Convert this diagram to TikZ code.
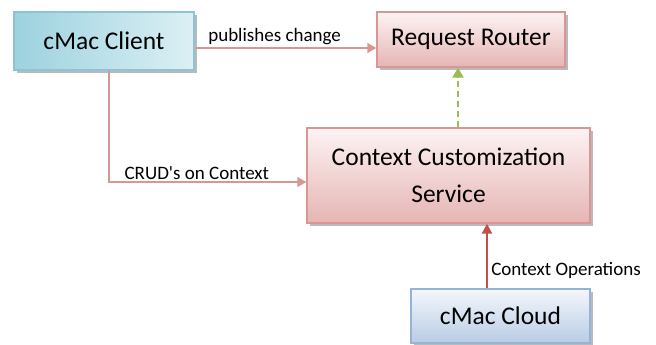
\documentclass[tikz,border=0pt]{standalone}
\usepackage{fontspec}
\setmainfont{Carlito}
\usetikzlibrary{arrows.meta,shadows}
\definecolor{clientA}{HTML}{9CD2DF}
\definecolor{clientB}{HTML}{DCF0F5}
\definecolor{clientLine}{HTML}{8CC4D3}
\definecolor{pinkA}{HTML}{FDF3F3}
\definecolor{pinkB}{HTML}{E5B5B4}
\definecolor{pinkLine}{HTML}{D99694}
\definecolor{cloudA}{HTML}{F4F7FC}
\definecolor{cloudB}{HTML}{B8CCE4}
\definecolor{cloudLine}{HTML}{95B3D7}
\definecolor{redLine}{HTML}{C0504D}
\definecolor{greenLine}{HTML}{9BBB59}
\tikzset{
  x=1pt, y=-1pt,
  box/.style={draw, line width=1.4pt, inner sep=0pt, font=\fontsize{25.5}{37}\selectfont,
    align=center, drop shadow={shadow xshift=2.5pt, shadow yshift=-3pt, opacity=0.45, fill=black!60}},
  clientbox/.style={box, draw=clientLine, left color=clientA, right color=clientB},
  pinkbox/.style={box, draw=pinkLine, top color=pinkA, bottom color=pinkB},
  cloudbox/.style={box, draw=cloudLine, top color=cloudA, bottom color=cloudB},
  flow/.style={draw=pinkLine, line width=1.6pt, -{Triangle[length=9pt,width=10pt]}},
  lbl/.style={font=\fontsize{19}{22}\selectfont, inner sep=1pt},
}
\begin{document}
\begin{tikzpicture}
\useasboundingbox (0,0) rectangle (656,345);
\node[clientbox, minimum width=180pt, minimum height=58pt] (client) at (104,41) {cMac Client};
\node[pinkbox, minimum width=188pt, minimum height=55pt] (router) at (471,39.5) {Request Router};
\node[pinkbox, minimum width=283pt, minimum height=95pt] (ccs) at (448.5,175.5) {Context Customization\\Service};
\node[cloudbox, minimum width=179pt, minimum height=54pt] (cloud) at (500.5,316) {cMac Cloud};

\coordinate (bend) at (109,182);
\draw[flow] (client.east |- 0,48) -- (router.west |- 0,48)
  node[lbl, pos=0.44, above=1pt] {publishes change};
\draw[flow] (client.south -| bend) -- (bend) -- (ccs.west |- bend)
  node[lbl, pos=0.07, above=1pt, anchor=south west] {CRUD\textquotesingle s on Context};
\draw[draw=greenLine, line width=2.4pt, dash pattern=on 6pt off 4pt,
  -{Triangle[length=10pt,width=11pt]}] (ccs.north -| 458,0) -- (router.south -| 458,0);
\draw[draw=redLine, line width=2.6pt, -{Triangle[length=10pt,width=10pt]}]
  (cloud.north -| 487,0) -- (ccs.south -| 487,0)
  node[lbl, pos=0.27, right=2pt, anchor=west] {Context Operations};
\end{tikzpicture}
\end{document}
